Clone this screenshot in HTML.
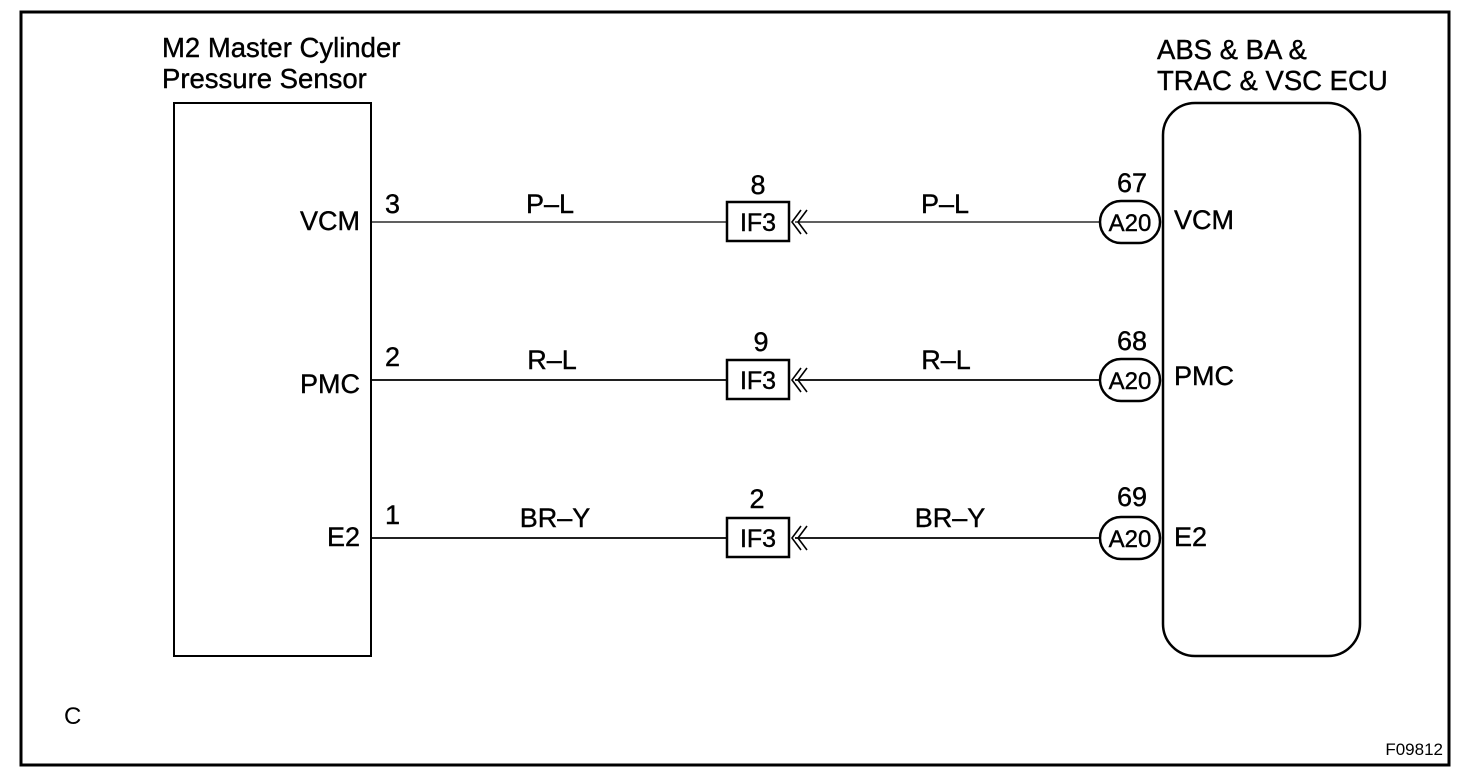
<!DOCTYPE html>
<html><head><style>
html,body{margin:0;padding:0;background:#fff;}
svg{display:block;}
text{font-family:"Liberation Sans",Arial,sans-serif;fill:#000;}
</style></head><body>
<svg width="1472" height="784" viewBox="0 0 1472 784" xmlns="http://www.w3.org/2000/svg">
<rect x="21" y="12" width="1428" height="753" fill="none" stroke="#000" stroke-width="3"/>
<text x="162" y="57" font-size="27.5" stroke="#000" stroke-width="0.4">M2 Master Cylinder</text>
<text x="162" y="88" font-size="27.5" stroke="#000" stroke-width="0.4">Pressure Sensor</text>
<text x="1157" y="59" font-size="27.5" stroke="#000" stroke-width="0.4">ABS &amp; BA &amp;</text>
<text x="1157" y="90" font-size="27.5" stroke="#000" stroke-width="0.4">TRAC &amp; VSC ECU</text>
<rect x="174" y="103" width="197" height="553" fill="none" stroke="#000" stroke-width="2"/>
<rect x="1163" y="103" width="197" height="553" rx="32" ry="32" fill="none" stroke="#000" stroke-width="2.5"/>
<g font-size="27" stroke="#000" stroke-width="0.4">
<text x="360" y="230" text-anchor="end">VCM</text>
<text x="360" y="393" text-anchor="end">PMC</text>
<text x="360" y="546" text-anchor="end">E2</text>
<text x="1174" y="229">VCM</text>
<text x="1174" y="385">PMC</text>
<text x="1174" y="546">E2</text>
<text x="385" y="213">3</text>
<text x="385" y="366">2</text>
<text x="385" y="524">1</text>
<text x="550" y="213" text-anchor="middle">P–L</text>
<text x="552" y="369" text-anchor="middle">R–L</text>
<text x="555" y="527" text-anchor="middle">BR–Y</text>
<text x="945" y="213" text-anchor="middle">P–L</text>
<text x="946" y="369" text-anchor="middle">R–L</text>
<text x="950" y="527" text-anchor="middle">BR–Y</text>
<text x="758" y="194" text-anchor="middle">8</text>
<text x="761" y="351" text-anchor="middle">9</text>
<text x="757" y="508" text-anchor="middle">2</text>
<text x="1132" y="192" text-anchor="middle">67</text>
<text x="1132" y="350" text-anchor="middle">68</text>
<text x="1132" y="506" text-anchor="middle">69</text>
</g>
<g stroke="#000" fill="none">
<line x1="372" y1="222" x2="726" y2="222" stroke-width="1.2"/>
<line x1="372" y1="380" x2="726" y2="380" stroke-width="1.8"/>
<line x1="372" y1="538" x2="726" y2="538" stroke-width="1.8"/>
<line x1="795" y1="222" x2="1099" y2="222" stroke-width="1.2"/>
<line x1="795" y1="380" x2="1099" y2="380" stroke-width="1.8"/>
<line x1="795" y1="538" x2="1099" y2="538" stroke-width="1.8"/>
</g>
<g id="r1">
<rect x="727" y="202" width="62" height="39" fill="#fff" stroke="#000" stroke-width="2.5"/>
<text x="758" y="231" font-size="25" text-anchor="middle" stroke="#000" stroke-width="0.4">IF3</text>
<path d="M801 210 L792 222 L801 234 M807 210 L798 222 L807 234" fill="none" stroke="#000" stroke-width="1.6"/>
<rect x="1100" y="201" width="60" height="42" rx="21" ry="21" fill="#fff" stroke="#000" stroke-width="2.5"/>
<text x="1130" y="231" font-size="24" text-anchor="middle" stroke="#000" stroke-width="0.4">A20</text>
</g>
<use href="#r1" y="158"/>
<use href="#r1" y="316"/>
<text x="64" y="724" font-size="24">C</text>
<text x="1443" y="755" font-size="17" text-anchor="end">F09812</text>
</svg>
</body></html>
